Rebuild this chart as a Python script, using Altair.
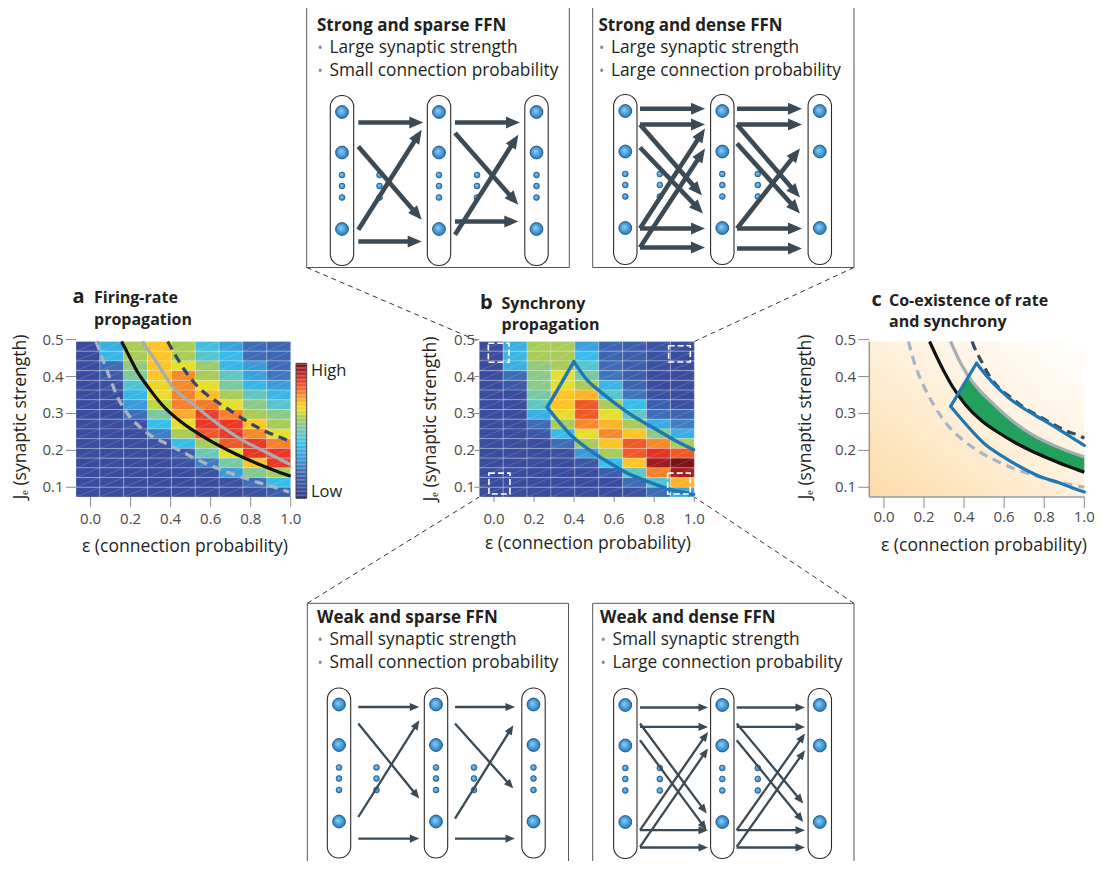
import math
import altair as alt
import pandas as pd

# ------------------------------------------------------------------ data
EPS_TICKS = [0.0, 0.2, 0.4, 0.6, 0.8, 1.0]
EPS_LABELS = ["0.0", "0.2", "0.4", "0.6", "0.8", "1.0"]
J_TICKS = [0.1, 0.2, 0.3, 0.4, 0.5]
J_LABELS = ["0.1", "0.2", "0.3", "0.4", "0.5"]
EPS_DOMAIN = [-0.073, 1.0]
J_DOMAIN = [0.0737, 0.4949]
N_COLS, N_ROWS = 9, 16

# firing-rate propagation (rows from top J to bottom J), 0 = low, 1 = high
RATE = [
    [0.10, 0.36, 0.60, 0.70, 0.60, 0.42, 0.32, 0.20, 0.18],
    [0.10, 0.38, 0.60, 0.70, 0.60, 0.46, 0.39, 0.20, 0.18],
    [0.10, 0.20, 0.56, 0.70, 0.65, 0.58, 0.38, 0.30, 0.20],
    [0.10, 0.15, 0.53, 0.70, 0.77, 0.60, 0.48, 0.32, 0.22],
    [0.10, 0.12, 0.45, 0.67, 0.77, 0.65, 0.52, 0.38, 0.30],
    [0.10, 0.10, 0.38, 0.66, 0.78, 0.71, 0.60, 0.48, 0.38],
    [0.10, 0.10, 0.30, 0.62, 0.78, 0.79, 0.65, 0.55, 0.46],
    [0.10, 0.10, 0.20, 0.52, 0.73, 0.86, 0.78, 0.60, 0.55],
    [0.10, 0.10, 0.12, 0.40, 0.65, 0.87, 0.87, 0.70, 0.60],
    [0.10, 0.10, 0.10, 0.24, 0.60, 0.83, 0.87, 0.77, 0.65],
    [0.10, 0.10, 0.10, 0.12, 0.40, 0.60, 0.83, 0.87, 0.78],
    [0.10, 0.10, 0.10, 0.10, 0.15, 0.50, 0.65, 0.87, 0.87],
    [0.10, 0.10, 0.10, 0.10, 0.12, 0.24, 0.52, 0.70, 0.87],
    [0.10, 0.10, 0.10, 0.10, 0.10, 0.12, 0.30, 0.54, 0.60],
    [0.10, 0.10, 0.10, 0.10, 0.10, 0.10, 0.12, 0.20, 0.40],
    [0.10, 0.10, 0.10, 0.10, 0.10, 0.10, 0.10, 0.12, 0.15],
]

# synchrony propagation
SYNC = [
    [0.10, 0.36, 0.60, 0.60, 0.32, 0.18, 0.16, 0.13, 0.10],
    [0.10, 0.38, 0.60, 0.60, 0.40, 0.18, 0.16, 0.12, 0.10],
    [0.10, 0.36, 0.56, 0.60, 0.46, 0.20, 0.16, 0.12, 0.10],
    [0.10, 0.20, 0.55, 0.65, 0.52, 0.22, 0.16, 0.10, 0.10],
    [0.10, 0.14, 0.55, 0.65, 0.60, 0.38, 0.18, 0.10, 0.10],
    [0.10, 0.10, 0.52, 0.70, 0.72, 0.46, 0.22, 0.12, 0.10],
    [0.10, 0.10, 0.48, 0.70, 0.83, 0.60, 0.40, 0.16, 0.12],
    [0.10, 0.10, 0.36, 0.66, 0.83, 0.65, 0.48, 0.20, 0.18],
    [0.10, 0.10, 0.20, 0.60, 0.77, 0.72, 0.60, 0.35, 0.24],
    [0.10, 0.10, 0.14, 0.40, 0.65, 0.77, 0.70, 0.55, 0.36],
    [0.10, 0.10, 0.10, 0.20, 0.60, 0.70, 0.83, 0.77, 0.60],
    [0.10, 0.10, 0.10, 0.12, 0.30, 0.60, 0.83, 0.88, 0.83],
    [0.10, 0.10, 0.10, 0.10, 0.14, 0.40, 0.70, 0.95, 1.00],
    [0.10, 0.10, 0.10, 0.10, 0.10, 0.16, 0.48, 0.78, 0.95],
    [0.10, 0.10, 0.10, 0.10, 0.10, 0.10, 0.20, 0.45, 0.72],
    [0.10, 0.10, 0.10, 0.10, 0.10, 0.10, 0.12, 0.20, 0.32],
]

# panel a boundary curves (eps, J)
A_GRAYDASH_E = [0.027, 0.068, 0.100, 0.133, 0.178, 0.237, 0.300, 0.375, 0.450, 0.542, 0.630, 0.720, 0.820, 0.920, 0.992]
A_GRAYDASH_J = [0.495, 0.436, 0.391, 0.346, 0.304, 0.268, 0.2405, 0.219, 0.198, 0.173, 0.152, 0.134, 0.116, 0.100, 0.087]
A_BLACK_E = [0.155, 0.192, 0.233, 0.292, 0.358, 0.450, 0.575, 0.733, 0.933, 1.0]
A_BLACK_J = [0.495, 0.456, 0.4135, 0.368, 0.323, 0.278, 0.233, 0.188, 0.143, 0.130]
A_GRAY_E = [0.258, 0.333, 0.407, 0.527, 0.645, 0.765, 0.885, 1.0]
A_GRAY_J = [0.495, 0.436, 0.374, 0.319, 0.268, 0.226, 0.193, 0.161]
A_DARKDASH_E = [0.385, 0.433, 0.478, 0.528, 0.578, 0.633, 0.695, 0.758, 0.825, 0.892, 0.950, 1.0]
A_DARKDASH_J = [0.495, 0.4495, 0.411, 0.377, 0.352, 0.331, 0.309, 0.2865, 0.265, 0.247, 0.235, 0.223]

# panel b synchrony region outline
B_LOWER_E = [0.266, 0.316, 0.382, 0.465, 0.565, 0.665, 0.764, 0.880, 0.997]
B_LOWER_J = [0.3165, 0.283, 0.2424, 0.2057, 0.170, 0.1384, 0.1162, 0.094, 0.0805]
B_UPPER_E = [0.399, 0.465, 0.531, 0.615, 0.698, 0.798, 0.897, 0.997]
B_UPPER_J = [0.4405, 0.3908, 0.359, 0.3232, 0.2916, 0.2608, 0.2289, 0.2019]
# dashed sample squares in panel b: eps0, eps1, J0, J1
B_SQ_E0 = [-0.028, 0.872, -0.025, 0.867]
B_SQ_E1 = [0.075, 0.980, 0.080, 0.980]
B_SQ_J0 = [0.4386, 0.4392, 0.0819, 0.0819]
B_SQ_J1 = [0.490, 0.4835, 0.1384, 0.1384]

# panel c curves
C_GRAYDASH_E = [0.122, 0.158, 0.200, 0.253, 0.312, 0.387, 0.475, 0.567, 0.658, 0.758, 0.858, 0.958, 1.0]
C_GRAYDASH_J = [0.495, 0.427, 0.373, 0.319, 0.272, 0.2315, 0.197, 0.170, 0.149, 0.131, 0.115, 0.1045, 0.100]
C_BLACK_E = [0.228, 0.267, 0.300, 0.342, 0.408, 0.492, 0.575, 0.658, 0.742, 0.825, 0.908, 1.0]
C_BLACK_J = [0.495, 0.4495, 0.4135, 0.373, 0.323, 0.278, 0.247, 0.220, 0.197, 0.1775, 0.159, 0.141]
C_GRAY_E = [0.333, 0.375, 0.417, 0.475, 0.542, 0.625, 0.742, 0.842, 1.0]
C_GRAY_J = [0.495, 0.445, 0.4045, 0.364, 0.328, 0.287, 0.242, 0.215, 0.182]
C_DARKDASH_E = [0.440, 0.450, 0.492, 0.528, 0.578, 0.642, 0.708, 0.775, 0.850, 0.917, 0.983, 1.0]
C_DARKDASH_J = [0.495, 0.481, 0.436, 0.400, 0.367, 0.340, 0.3126, 0.292, 0.269, 0.251, 0.238, 0.233]
C_LOWER_E = [0.333, 0.383, 0.442, 0.508, 0.592, 0.675, 0.775, 0.875, 0.942, 1.0]
C_LOWER_J = [0.319, 0.287, 0.251, 0.215, 0.184, 0.157, 0.130, 0.112, 0.098, 0.0874]
C_UPPER_E = [0.462, 0.508, 0.567, 0.625, 0.708, 0.792, 0.875, 0.942, 1.0]
C_UPPER_J = [0.436, 0.4045, 0.370, 0.3414, 0.310, 0.283, 0.256, 0.233, 0.2135]
C_BAND_E = [0.368, 0.422, 0.475, 0.542, 0.625, 0.742, 0.842, 1.0]
C_BAND_LO = [0.353, 0.3155, 0.287, 0.259, 0.231, 0.197, 0.174, 0.141]
C_BAND_HI = [0.353, 0.401, 0.364, 0.328, 0.287, 0.242, 0.215, 0.182]

# FFN schematics (local coordinates: first layer centre, top of layer)
LAYER_X = [0, 97, 194.5]
BIG_NODE_Y = [16.5, 57, 133.5]
SMALL_NODE_Y = [79.5, 90.5, 102]
ARROWS_STRONG_SPARSE = [
    (16.3, 27, 81.3, 27), (16.3, 51, 79.7, 124.3), (16.3, 134.3, 79.7, 34.3), (16.3, 146, 79.7, 146),
    (113, 27, 178, 27), (113, 37.6, 176.3, 109.3), (113, 139.3, 176.3, 39.3), (113, 126, 176.3, 126)]
ARROWS_STRONG_DENSE = [
    (14.7, 14.3, 79.7, 14.3), (14.7, 30, 79.7, 30), (14.7, 30, 76.7, 101), (14.7, 53, 77.7, 119),
    (14.7, 134, 79.7, 34), (14.7, 153, 79.7, 54), (14.7, 134, 79.7, 134), (14.7, 153, 79.7, 153),
    (111.7, 14.3, 176.7, 14.3), (111.7, 30, 176.7, 30), (111.7, 30, 174.7, 103), (111.7, 49, 174.7, 119),
    (111.7, 134, 174.7, 54), (111.7, 134, 176.7, 134), (111.7, 154, 176.7, 154)]
ARROWS_WEAK_SPARSE = [
    (19.3, 19, 80.3, 19), (19.3, 35.6, 80.3, 110.6), (19.3, 129, 80.3, 32.3), (19.3, 150.6, 80.3, 150.6),
    (116, 19, 176, 19), (116, 35.6, 174.3, 100.6), (116, 130.6, 174.3, 37.3), (116, 150.6, 176, 150.6)]
ARROWS_WEAK_DENSE = [
    (14.7, 19, 82.7, 19), (14.7, 38.4, 82.7, 38.4), (14.7, 35, 81.4, 125), (14.7, 51.7, 81.4, 141.7),
    (14.7, 141.7, 82.7, 43.4), (14.7, 158.4, 82.7, 60), (14.7, 141.7, 82.7, 141.7), (14.7, 159, 82.7, 159),
    (111.4, 19, 179.7, 19), (111.4, 38.4, 179.7, 38.4), (111.4, 35, 178, 115), (111.4, 51.7, 178, 133.4),
    (111.4, 141.7, 179.7, 45), (111.4, 158.4, 179.7, 61.7), (111.4, 141.7, 179.7, 141.7), (111.4, 159, 179.7, 159)]

BOX_TITLES = ["Strong and sparse FFN", "Strong and dense FFN", "Weak and sparse FFN", "Weak and dense FFN"]
BOX_LINE1 = ["Large synaptic strength", "Large synaptic strength", "Small synaptic strength", "Small synaptic strength"]
BOX_LINE2 = ["Small connection probability", "Large connection probability",
             "Small connection probability", "Large connection probability"]

# ------------------------------------------------------------------ layout / style
M = 8
W, H = 1093, 853
FONT = "Open Sans"
TXT = "#231f20"
ARROW_C = "#3b4a54"

PANELS = {
    "a": dict(x0=76, x1=290.7, y0=341.5, y1=497, tick=10, ylab_r=63.5, xlab_y=519),
    "b": dict(x0=479.3, x1=694.3, y0=341.5, y1=497, tick=5, ylab_r=475, xlab_y=519),
    "c": dict(x0=869.3, x1=1084.3, y0=341.5, y1=497, tick=11, ylab_r=856, xlab_y=517),
}
BOXES = [
    dict(l=306.7, t=4, r=569.3, b=267.5, tx=317, ty=30.5, ox=342, oy=95.5, arrows=ARROWS_STRONG_SPARSE,
         strong=True, dense=False),
    dict(l=592.7, t=4, r=854, b=267.5, tx=598.5, ty=30.5, ox=625.3, oy=94.5, arrows=ARROWS_STRONG_DENSE,
         strong=True, dense=True),
    dict(l=307.3, t=603.3, r=568.5, b=880, tx=317, ty=622.5, ox=339, oy=688, arrows=ARROWS_WEAK_SPARSE,
         strong=False, dense=False),
    dict(l=592.7, t=603.3, r=854, b=880, tx=600, ty=622.5, ox=625.3, oy=688.5, arrows=ARROWS_WEAK_DENSE,
         strong=False, dense=True),
]

CX = alt.Scale(domain=[0, 1109], range=[-M, 1109 - M], zero=False, nice=False)
CY = alt.Scale(domain=[0, 869], range=[-M, 869 - M], zero=False, nice=False)

COLOR_DOM = [0.0, 0.1, 0.2, 0.3, 0.4, 0.5, 0.6, 0.65, 0.7, 0.78, 0.87, 0.94, 1.0]
COLOR_RNG = ["#2b2f83", "#3a4c9e", "#3e6cb7", "#3b9ad8", "#37bdea", "#6cc7b5", "#a9cb58",
             "#e4df2c", "#fcc425", "#f5822b", "#eb3726", "#a61e23", "#7a1315"]
CSCALE = alt.Scale(domain=COLOR_DOM, range=COLOR_RNG, interpolate="rgb")


def xs(p):
    P = PANELS[p]
    return alt.Scale(domain=EPS_DOMAIN, range=[P["x0"] - M, P["x1"] - M], zero=False, nice=False)


def ys(p):
    P = PANELS[p]
    return alt.Scale(domain=J_DOMAIN, range=[P["y1"] - M, P["y0"] - M], zero=False, nice=False)


def canvas_text(df, size, weight="normal", color=TXT, align="left", baseline="alphabetic", angle=0):
    return alt.Chart(df).mark_text(font=FONT, fontSize=size, fontWeight=weight, color=color, align=align,
                                   baseline=baseline, angle=angle).encode(
        x=alt.X("px:Q", scale=CX, axis=None), y=alt.Y("py:Q", scale=CY, axis=None), text="t:N")


layers = []

# ---------------- connecting dashed lines and boxes
conn = pd.DataFrame({
    "x1": [BOXES[0]["l"], BOXES[1]["r"], BOXES[2]["l"], BOXES[3]["r"]],
    "y1": [BOXES[0]["b"], BOXES[1]["b"], BOXES[2]["t"], BOXES[3]["t"]],
    "x2": [PANELS["b"]["x0"], PANELS["b"]["x1"], PANELS["b"]["x0"], PANELS["b"]["x1"]],
    "y2": [PANELS["b"]["y0"], PANELS["b"]["y0"], PANELS["b"]["y1"], PANELS["b"]["y1"]],
})
layers.append(alt.Chart(conn).mark_rule(color="#333333", strokeWidth=1, strokeDash=[5, 4]).encode(
    x=alt.X("x1:Q", scale=CX, axis=None), y=alt.Y("y1:Q", scale=CY, axis=None), x2="x2:Q", y2="y2:Q"))

boxdf = pd.DataFrame({"l": [b["l"] for b in BOXES], "r": [b["r"] for b in BOXES],
                      "t": [b["t"] for b in BOXES], "b": [b["b"] for b in BOXES]})
layers.append(alt.Chart(boxdf).mark_rect(fill="white", stroke="#555555", strokeWidth=1).encode(
    x=alt.X("l:Q", scale=CX, axis=None), x2="r:Q", y=alt.Y("t:Q", scale=CY, axis=None), y2="b:Q"))

# box texts
title_df = pd.DataFrame({"t": BOX_TITLES, "px": [b["tx"] for b in BOXES], "py": [b["ty"] for b in BOXES]})
layers.append(canvas_text(title_df, 17, weight="bold"))
bul_rows = []
for i, b in enumerate(BOXES):
    bul_rows.append(dict(t=BOX_LINE1[i], px=b["tx"] + 12.5, py=b["ty"] + 22.5))
    bul_rows.append(dict(t=BOX_LINE2[i], px=b["tx"] + 12.5, py=b["ty"] + 45))
bul_df = pd.DataFrame(bul_rows)
layers.append(canvas_text(bul_df, 17.3))
dot_df = bul_df.assign(px=bul_df["px"] - 9.5, t="•")
layers.append(canvas_text(dot_df, 14, color="#8c8c8c", align="center"))

NODE_FILL = alt.RadialGradient(gradient="radial",
                               stops=[alt.GradientStop(color="#8fd0f5", offset=0),
                                      alt.GradientStop(color="#3a8fd0", offset=0.7),
                                      alt.GradientStop(color="#2a6fa8", offset=1)],
                               x1=0.4, y1=0.4, r1=0, x2=0.5, y2=0.5, r2=0.55)

for b in BOXES:
    sx = alt.Scale(domain=[0, 300], range=[b["ox"] - M, b["ox"] + 300 - M], zero=False, nice=False)
    sy = alt.Scale(domain=[0, 200], range=[b["oy"] - M, b["oy"] + 200 - M], zero=False, nice=False)
    pills = pd.DataFrame({"x0": [c - 11.7 for c in LAYER_X], "x1": [c + 11.7 for c in LAYER_X],
                          "y0": [0] * 3, "y1": [170] * 3})
    layers.append(alt.Chart(pills).mark_rect(fill="white", stroke="#2b2b2b", strokeWidth=1.1,
                                             cornerRadius=11.5).encode(
        x=alt.X("x0:Q", scale=sx, axis=None), x2="x1:Q", y=alt.Y("y0:Q", scale=sy, axis=None), y2="y1:Q"))
    big = pd.DataFrame([dict(x=c, y=y) for c in LAYER_X for y in BIG_NODE_Y])
    layers.append(alt.Chart(big).mark_point(shape="circle", filled=True, fill=NODE_FILL, opacity=1,
                                            size=165, stroke="#1f557d", strokeWidth=0.9).encode(
        x=alt.X("x:Q", scale=sx, axis=None), y=alt.Y("y:Q", scale=sy, axis=None)))
    small_x = LAYER_X[:2] if b["dense"] else LAYER_X
    between = [34.5, 132.5] if b["dense"] else [37.5, 135]
    small = pd.DataFrame([dict(x=c, y=y) for c in list(small_x) + between for y in SMALL_NODE_Y])
    layers.append(alt.Chart(small).mark_point(shape="circle", filled=True, fill=NODE_FILL, opacity=1,
                                              size=34, stroke="#1f557d", strokeWidth=0.7).encode(
        x=alt.X("x:Q", scale=sx, axis=None), y=alt.Y("y:Q", scale=sy, axis=None)))
    hl = 14 if b["strong"] else 9.5
    sw = 4.6 if b["strong"] else 2.3
    rows = []
    for (x1, y1, x2, y2) in b["arrows"]:
        dx, dy = x2 - x1, y2 - y1
        ln = math.hypot(dx, dy)
        ux, uy = dx / ln, dy / ln
        rows.append(dict(x1=x1, y1=y1, xe=x2 - ux * hl * 0.7, ye=y2 - uy * hl * 0.7,
                         hx=x2 - ux * hl / 2, hy=y2 - uy * hl / 2,
                         ang=math.degrees(math.atan2(dx, -dy)) % 360))
    adf = pd.DataFrame(rows)
    layers.append(alt.Chart(adf).mark_rule(color=ARROW_C, strokeWidth=sw).encode(
        x=alt.X("x1:Q", scale=sx, axis=None), y=alt.Y("y1:Q", scale=sy, axis=None), x2="xe:Q", y2="ye:Q"))
    layers.append(alt.Chart(adf).mark_point(shape="M0,-1L0.85,1L-0.85,1Z", filled=True, opacity=1,
                                            color=ARROW_C, size=hl * hl, strokeWidth=0).encode(
        x=alt.X("hx:Q", scale=sx, axis=None), y=alt.Y("hy:Q", scale=sy, axis=None),
        angle=alt.Angle("ang:Q", scale=None)))


# ---------------- heat maps
def heat_df(grid):
    cw = (EPS_DOMAIN[1] - EPS_DOMAIN[0]) / N_COLS
    rh = (J_DOMAIN[1] - J_DOMAIN[0]) / N_ROWS
    out = []
    for r, row in enumerate(grid):
        for c, v in enumerate(row):
            out.append(dict(x0=EPS_DOMAIN[0] + c * cw, x1=EPS_DOMAIN[0] + (c + 1) * cw,
                            y1=J_DOMAIN[1] - r * rh, y0=J_DOMAIN[1] - (r + 1) * rh, v=v))
    return pd.DataFrame(out)


for p, grid in (("a", RATE), ("b", SYNC)):
    hd = heat_df(grid)
    layers.append(alt.Chart(hd).mark_rect(stroke="white", strokeWidth=0.7, strokeOpacity=0.35).encode(
        x=alt.X("x0:Q", scale=xs(p), axis=None), x2="x1:Q",
        y=alt.Y("y0:Q", scale=ys(p), axis=None), y2="y1:Q",
        color=alt.Color("v:Q", scale=CSCALE, legend=None)))
    layers.append(alt.Chart(hd).mark_rule(color="white", strokeWidth=0.5, opacity=0.3).encode(
        x=alt.X("x0:Q", scale=xs(p), axis=None), x2="x1:Q",
        y=alt.Y("y0:Q", scale=ys(p), axis=None), y2="y1:Q"))


def curve(p, e, j, color, dash=None, width=3.2, interp="monotone"):
    kw = dict(color=color, strokeWidth=width, interpolate=interp, strokeCap="butt")
    if dash:
        kw["strokeDash"] = dash
    return alt.Chart(pd.DataFrame({"e": e, "j": j})).mark_line(**kw).encode(
        x=alt.X("e:Q", scale=xs(p), axis=None), y=alt.Y("j:Q", scale=ys(p), axis=None))


# panel a curves
layers.append(curve("a", A_GRAYDASH_E, A_GRAYDASH_J, "#a9b5c2", dash=[9, 6]))
layers.append(curve("a", A_BLACK_E, A_BLACK_J, "#111111"))
layers.append(curve("a", A_GRAY_E, A_GRAY_J, "#a8adb2"))
layers.append(curve("a", A_DARKDASH_E, A_DARKDASH_J, "#34495e", dash=[9, 6]))

# colorbar
cb_steps = [i / 100 for i in range(100)]
cb = pd.DataFrame({"v0": cb_steps, "v1": [v + 0.0101 for v in cb_steps], "v": [v + 0.005 for v in cb_steps]})
cby = alt.Scale(domain=[0, 1], range=[498.3 - M, 363.3 - M], zero=False, nice=False)
layers.append(alt.Chart(cb).mark_rect().encode(
    x=alt.value(296 - M), x2=alt.value(306.7 - M),
    y=alt.Y("v0:Q", scale=cby, axis=None), y2="v1:Q",
    color=alt.Color("v:Q", scale=CSCALE, legend=None)))
layers.append(alt.Chart(pd.DataFrame({"k": [0]})).mark_rect(fillOpacity=0, stroke="#444444", strokeWidth=1).encode(
    x=alt.value(296 - M), x2=alt.value(306.7 - M), y=alt.value(363.3 - M), y2=alt.value(498.3 - M)))
layers.append(canvas_text(pd.DataFrame({"t": ["High", "Low"], "px": [311, 311], "py": [375.5, 497]}), 16.5))

# panel b outline + sample squares
bl = pd.DataFrame({"e": B_LOWER_E + [B_LOWER_E[0], B_UPPER_E[0]] + B_UPPER_E,
                   "j": B_LOWER_J + [B_LOWER_J[0], B_UPPER_J[0]] + B_UPPER_J,
                   "seg": ["lo"] * len(B_LOWER_E) + ["edge"] * 2 + ["up"] * len(B_UPPER_E)})
layers.append(alt.Chart(bl).mark_line(color="#1f78b4", strokeWidth=3.4, interpolate="monotone",
                                      strokeCap="round", strokeJoin="round").encode(
    x=alt.X("e:Q", scale=xs("b"), axis=None), y=alt.Y("j:Q", scale=ys("b"), axis=None), detail="seg:N"))
sq = pd.DataFrame({"e0": B_SQ_E0, "e1": B_SQ_E1, "j0": B_SQ_J0, "j1": B_SQ_J1})
layers.append(alt.Chart(sq).mark_rect(fillOpacity=0, stroke="white", strokeWidth=1.6, strokeDash=[6, 3]).encode(
    x=alt.X("e0:Q", scale=xs("b"), axis=None), x2="e1:Q", y=alt.Y("j0:Q", scale=ys("b"), axis=None), y2="j1:Q"))

# panel c
bg = pd.DataFrame({"e0": [EPS_DOMAIN[0]], "e1": [EPS_DOMAIN[1]], "j0": [J_DOMAIN[0]], "j1": [J_DOMAIN[1]]})
GRAD = alt.LinearGradient(gradient="linear",
                          stops=[alt.GradientStop(color="#fcdba8", offset=0),
                                 alt.GradientStop(color="#fff0da", offset=0.5),
                                 alt.GradientStop(color="#ffffff", offset=1)],
                          x1=0, y1=1, x2=1, y2=0)
layers.append(alt.Chart(bg).mark_rect(fill=GRAD).encode(
    x=alt.X("e0:Q", scale=xs("c"), axis=None), x2="e1:Q", y=alt.Y("j0:Q", scale=ys("c"), axis=None), y2="j1:Q"))
band = pd.DataFrame({"e": C_BAND_E, "lo": C_BAND_LO, "hi": C_BAND_HI})
layers.append(alt.Chart(band).mark_area(color="#22a05c", opacity=1).encode(
    x=alt.X("e:Q", scale=xs("c"), axis=None), y=alt.Y("lo:Q", scale=ys("c"), axis=None), y2="hi:Q"))
layers.append(curve("c", C_GRAYDASH_E, C_GRAYDASH_J, "#a9b5c2", dash=[9, 6]))
layers.append(curve("c", C_BLACK_E, C_BLACK_J, "#111111"))
layers.append(curve("c", C_GRAY_E, C_GRAY_J, "#a8adb2"))
layers.append(curve("c", C_DARKDASH_E, C_DARKDASH_J, "#34495e", dash=[9, 6]))
cl = pd.DataFrame({"e": C_LOWER_E + [C_LOWER_E[0], C_UPPER_E[0]] + C_UPPER_E,
                   "j": C_LOWER_J + [C_LOWER_J[0], C_UPPER_J[0]] + C_UPPER_J,
                   "seg": ["lo"] * len(C_LOWER_E) + ["edge"] * 2 + ["up"] * len(C_UPPER_E)})
layers.append(alt.Chart(cl).mark_line(color="#1f78b4", strokeWidth=3.2, interpolate="monotone",
                                      strokeCap="round", strokeJoin="round").encode(
    x=alt.X("e:Q", scale=xs("c"), axis=None), y=alt.Y("j:Q", scale=ys("c"), axis=None), detail="seg:N"))
Pc = PANELS["c"]
layers.append(alt.Chart(pd.DataFrame({"k": [0]})).mark_rule(color="#9a9a9a", strokeWidth=1.5).encode(
    x=alt.value(Pc["x0"] - M), y=alt.value(Pc["y0"] - M), y2=alt.value(Pc["y1"] - M)))
layers.append(alt.Chart(pd.DataFrame({"k": [0]})).mark_rule(color="#9a9a9a", strokeWidth=1.5).encode(
    x=alt.value(Pc["x0"] - M), x2=alt.value(Pc["x1"] - M), y=alt.value(Pc["y1"] - M)))

# ---------------- axes (ticks + labels) for all three panels
xt = pd.DataFrame({"e": EPS_TICKS, "lab": EPS_LABELS})
yt = pd.DataFrame({"j": J_TICKS, "lab": J_LABELS})
for p, P in PANELS.items():
    layers.append(alt.Chart(xt).mark_rule(color="#8a8a8a", strokeWidth=1).encode(
        x=alt.X("e:Q", scale=xs(p), axis=None), y=alt.value(P["y1"] - M), y2=alt.value(P["y1"] + P["tick"] - M)))
    layers.append(alt.Chart(yt).mark_rule(color="#8a8a8a", strokeWidth=1).encode(
        y=alt.Y("j:Q", scale=ys(p), axis=None), x=alt.value(P["x0"] - P["tick"] - M), x2=alt.value(P["x0"] - M)))
    layers.append(alt.Chart(xt).mark_text(font=FONT, fontSize=15, color="#4a4a4a", align="center",
                                          baseline="middle").encode(
        x=alt.X("e:Q", scale=xs(p), axis=None), y=alt.value(P["xlab_y"] - M), text="lab:N"))
    layers.append(alt.Chart(yt).mark_text(font=FONT, fontSize=15, color="#4a4a4a", align="right",
                                          baseline="middle").encode(
        y=alt.Y("j:Q", scale=ys(p), axis=None), x=alt.value(P["ylab_r"] - M), text="lab:N"))

# axis titles
xtitle = pd.DataFrame({"t": ["ε (connection probability)"] * 3, "px": [185, 588, 984], "py": [546.5, 543.5, 545.5]})
layers.append(canvas_text(xtitle, 17.5, align="center", baseline="middle"))
ytitle = pd.DataFrame({"t": ["Jₑ (synaptic strength)"] * 3, "px": [21, 431, 806], "py": [417, 419, 417]})
layers.append(canvas_text(ytitle, 17.5, align="center", baseline="middle", angle=270))

# panel titles
letters = pd.DataFrame({"t": ["a", "b", "c"], "px": [72.5, 480, 871.5], "py": [303, 309, 305.5]})
layers.append(canvas_text(letters, 20, weight="bold"))
ptitles = pd.DataFrame({"t": ["Firing-rate", "propagation", "Synchrony", "propagation",
                              "Co-existence of rate", "and synchrony"],
                        "px": [94, 94, 501.5, 501.5, 889, 889],
                        "py": [302.5, 325, 308.5, 330, 305.5, 327]})
layers.append(canvas_text(ptitles, 16, weight="bold"))

chart = alt.layer(*layers).resolve_scale(
    x="independent", y="independent", color="independent", angle="independent"
).properties(
    width=W, height=H, autosize=alt.AutoSizeParams(type="none"), padding=0, background="white"
).configure_view(strokeWidth=0)

chart.save("out.html", embed_options={"renderer": "svg", "actions": False})
